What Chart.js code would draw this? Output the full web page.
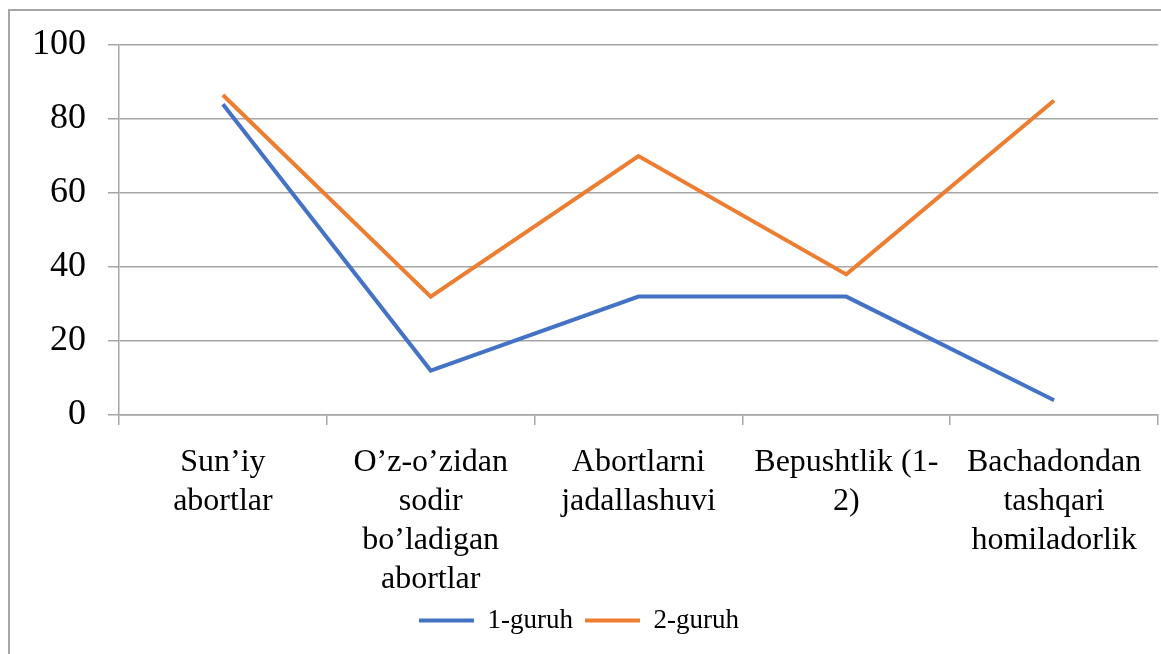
<!DOCTYPE html>
<html>
<head>
<meta charset="utf-8">
<script src="https://cdn.jsdelivr.net/npm/chart.js@4"></script>
<style>
  body { margin: 0; background: #fff; }
  #wrap { position: relative; width: 1161px; height: 654px; overflow: hidden; }
  #frame { position: absolute; left: 8px; top: 9px; width: 1200px; height: 700px;
           border-left: 2px solid #a6a6a6; border-top: 2px solid #a6a6a6; }
  #chart { position: absolute; left: 0; top: 0; }
</style>
</head>
<body>
<div id="wrap">
  <div id="frame"></div>
  <canvas id="chart" width="1161" height="654"></canvas>
</div>
<script>
var categories = [
    ['Sun\u2019iy', 'abortlar'],
    ['O\u2019z-o\u2019zidan', 'sodir', 'bo\u2019ladigan', 'abortlar'],
    ['Abortlarni', 'jadallashuvi'],
    ['Bepushtlik (1-', '2)'],
    ['Bachadondan', 'tashqari', 'homiladorlik']
];
var group1 = [84, 12, 32, 32, 4];
var group2 = [86.5, 32, 70, 38, 85];
var yTicks = [0, 20, 40, 60, 80, 100];

document.addEventListener("DOMContentLoaded", function() {
    var ctx = document.getElementById('chart').getContext('2d');
    var serif = '"Liberation Serif", "Times New Roman", serif';
    var gridColor = '#a6a6a6';

    new Chart(ctx, {
        type: 'line',
        data: {
            labels: categories,
            datasets: [
                {
                    label: '1-guruh',
                    data: group1,
                    borderColor: '#4472c4',
                    backgroundColor: '#4472c4',
                    borderWidth: 4,
                    pointRadius: 0,
                    tension: 0
                },
                {
                    label: '2-guruh',
                    data: group2,
                    borderColor: '#ed7d31',
                    backgroundColor: '#ed7d31',
                    borderWidth: 4,
                    pointRadius: 0,
                    tension: 0
                }
            ]
        },
        options: {
            responsive: false,
            animation: false,
            layout: { padding: { top: 45, right: 3, bottom: 10, left: 0 } },
            scales: {
                x: {
                    offset: true,
                    grid: {
                        offset: true,
                        drawOnChartArea: false,
                        color: gridColor,
                        lineWidth: 1.5,
                        tickLength: 10
                    },
                    border: { color: gridColor, width: 1.5 },
                    ticks: {
                        color: '#000',
                        maxRotation: 0,
                        autoSkip: false,
                        padding: 18,
                        font: { family: serif, size: 32, lineHeight: 1.22 }
                    },
                    afterFit: function(scale) { scale.height = 180; }
                },
                y: {
                    min: 0,
                    max: 100,
                    afterBuildTicks: function(scale) {
                        scale.ticks = yTicks.map(function(v) { return { value: v }; });
                    },
                    grid: {
                        color: gridColor,
                        lineWidth: 1.5,
                        tickLength: 11
                    },
                    border: { color: gridColor, width: 1.5 },
                    ticks: {
                        color: '#000',
                        padding: 22,
                        font: { family: serif, size: 36 }
                    },
                    afterFit: function(scale) { scale.width = 119; }
                }
            },
            plugins: {
                legend: {
                    position: 'bottom',
                    labels: {
                        color: '#000',
                        usePointStyle: true,
                        pointStyle: 'line',
                        pointStyleWidth: 55,
                        padding: 12,
                        font: { family: serif, size: 27 }
                    }
                },
                tooltip: { enabled: false }
            }
        }
    });
});
</script>
</body>
</html>
